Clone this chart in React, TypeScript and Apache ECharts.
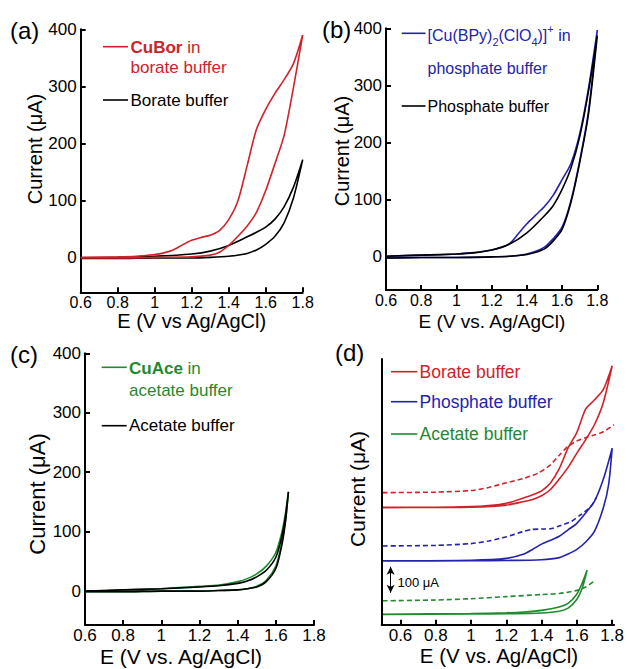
import React, { useEffect, useRef } from 'react';
import * as echarts from 'echarts';

// ---------- tick labels ----------
const xTicks = [0.6, 0.8, 1, 1.2, 1.4, 1.6, 1.8];
const yTicks = [0, 100, 200, 300, 400];

// ---------- panel (a) ----------
const aRedUpper = [[0.6, 1], [0.8, 2], [0.9, 3], [1.0, 6], [1.05, 9], [1.1, 14], [1.15, 23], [1.2, 31], [1.25, 36], [1.3, 40], [1.35, 48], [1.4, 67], [1.45, 100], [1.5, 162], [1.55, 225], [1.6, 260], [1.65, 288], [1.7, 312], [1.75, 340], [1.8, 390]];
const aRedLower = [[0.6, 0], [0.8, 0], [1.0, 1], [1.2, 2], [1.3, 5], [1.35, 10], [1.4, 22], [1.45, 38], [1.5, 56], [1.55, 80], [1.6, 118], [1.65, 165], [1.7, 215], [1.75, 298], [1.8, 390]];
const aBlackUpper = [[0.6, 0], [0.8, 1], [1.0, 3], [1.2, 7], [1.3, 12], [1.4, 22], [1.5, 37], [1.55, 45], [1.6, 54], [1.65, 68], [1.7, 90], [1.75, 124], [1.8, 172]];
const aBlackLower = [[0.6, -1], [0.8, -1], [1.0, 0], [1.2, 0], [1.3, 1], [1.4, 3], [1.5, 8], [1.55, 14], [1.6, 24], [1.65, 38], [1.7, 62], [1.75, 105], [1.8, 172]];

// ---------- panel (b) ----------
const bBlueUpper = [[0.6, 1], [0.8, 3], [1.0, 5], [1.2, 12], [1.3, 23], [1.35, 40], [1.4, 58], [1.45, 73], [1.5, 88], [1.55, 108], [1.6, 135], [1.65, 163], [1.7, 215], [1.75, 295], [1.8, 397]];
const bBlueLower = [[0.6, -2], [0.8, -1], [1.0, -1], [1.2, 0], [1.3, 1], [1.4, 5], [1.5, 17], [1.55, 32], [1.6, 52], [1.65, 98], [1.7, 168], [1.75, 255], [1.8, 397]];
const bBlackUpper = [[0.6, 1], [0.8, 3], [1.0, 5], [1.1, 7], [1.2, 12], [1.3, 22], [1.4, 42], [1.5, 72], [1.55, 90], [1.6, 118], [1.65, 155], [1.7, 210], [1.75, 290], [1.8, 387]];
const bBlackLower = [[0.6, -2], [0.8, -1], [1.0, -1], [1.2, 0], [1.3, 1], [1.4, 4], [1.5, 14], [1.55, 28], [1.6, 48], [1.65, 95], [1.7, 165], [1.75, 250], [1.8, 387]];

// ---------- panel (c) ----------
const cGreenUpper = [[0.6, 0], [0.8, 2], [1.0, 4], [1.2, 8], [1.3, 10], [1.4, 16], [1.45, 21], [1.5, 29], [1.55, 42], [1.6, 65], [1.63, 97], [1.65, 130], [1.666, 167]];
const cGreenLower = [[0.6, -1], [0.8, -1], [1.0, 0], [1.2, 0], [1.3, 1], [1.4, 2], [1.45, 4], [1.5, 8], [1.55, 18], [1.6, 42], [1.63, 80], [1.65, 118], [1.666, 167]];
const cBlackUpper = [[0.6, 0], [0.8, 2], [1.0, 4], [1.2, 7], [1.3, 9], [1.4, 13], [1.45, 17], [1.5, 24], [1.55, 35], [1.6, 57], [1.63, 90], [1.65, 125], [1.666, 167]];
const cBlackLower = [[0.6, -1], [0.8, -1], [1.0, 0], [1.2, 0], [1.3, 1], [1.4, 2], [1.45, 4], [1.5, 7], [1.55, 16], [1.6, 38], [1.63, 75], [1.65, 115], [1.666, 167]];

// ---------- panel (d) (offset traces, µA) ----------
const dRedUpper = [[0.5, 452], [0.8, 452], [1.0, 454], [1.1, 458], [1.2, 467], [1.3, 488], [1.35, 500], [1.4, 515], [1.45, 545], [1.5, 600], [1.55, 680], [1.6, 740], [1.65, 830], [1.7, 865], [1.75, 905], [1.8, 996]];
const dRedLower = [[0.5, 450], [0.8, 451], [1.0, 452], [1.2, 460], [1.3, 474], [1.35, 482], [1.4, 496], [1.45, 520], [1.5, 560], [1.55, 605], [1.6, 660], [1.65, 712], [1.7, 770], [1.75, 855], [1.8, 996]];
const dRedDashed = [[0.5, 508], [0.8, 510], [1.0, 516], [1.1, 528], [1.2, 546], [1.3, 563], [1.38, 583], [1.45, 615], [1.5, 652], [1.55, 686], [1.6, 707], [1.66, 722], [1.7, 730], [1.75, 742], [1.81, 769]];
const dBlueUpper = [[0.5, 246], [1.0, 248], [1.2, 255], [1.3, 272], [1.35, 290], [1.4, 310], [1.45, 325], [1.5, 340], [1.55, 365], [1.6, 390], [1.65, 430], [1.7, 475], [1.75, 560], [1.8, 679]];
const dBlueLower = [[0.5, 245], [1.0, 246], [1.2, 247], [1.4, 250], [1.5, 258], [1.55, 272], [1.6, 290], [1.65, 318], [1.7, 360], [1.75, 450], [1.78, 540], [1.8, 679]];
const dBlueDashed = [[0.5, 303], [0.8, 305], [1.0, 312], [1.1, 322], [1.2, 338], [1.29, 357], [1.34, 366], [1.4, 368], [1.45, 369], [1.5, 380], [1.57, 398], [1.62, 422], [1.68, 455], [1.71, 490]];
const dGreenUpper = [[0.5, 40], [1.0, 43], [1.2, 46], [1.3, 49], [1.4, 55], [1.5, 68], [1.55, 82], [1.6, 118], [1.63, 160], [1.658, 210]];
const dGreenLower = [[0.5, 39], [1.0, 41], [1.2, 42], [1.4, 45], [1.5, 52], [1.55, 64], [1.6, 98], [1.63, 140], [1.658, 210]];
const dGreenDashed = [[0.5, 92], [0.8, 95], [1.0, 100], [1.2, 108], [1.4, 116], [1.5, 120], [1.6, 132], [1.65, 145], [1.7, 168]];
const dScaleBar = [123, 223]; // 100 µA
const dScaleBarE = 0.544;

const RED = '#d0222a';
const BLUE = '#2323ad';
const GREEN = '#1f8a2e';
const BLACK = '#000000';
const FONT = '"Liberation Sans", Arial, sans-serif';

function loop(upper: number[][], lower: number[][]) {
  return upper.concat(lower.slice(0, -1).reverse());
}

function xAxisCfg(gridIndex: number, min: number, max: number, fs: number, margin = 2) {
  return {
    type: 'value', gridIndex, min, max,
    axisLine: { show: true, onZero: false, lineStyle: { color: '#000', width: 2 } },
    axisTick: { show: true, inside: true, length: 5, lineStyle: { color: '#000', width: 2 }, customValues: xTicks },
    axisLabel: { show: true, customValues: xTicks, fontSize: fs, color: '#000', fontFamily: FONT, margin },
    splitLine: { show: false },
  };
}
function yAxisCfg(gridIndex: number, min: number, max: number, show: boolean) {
  return {
    type: 'value', gridIndex, min, max,
    axisLine: { show: true, onZero: false, lineStyle: { color: '#000', width: 2 } },
    axisTick: { show, inside: true, length: 5, lineStyle: { color: '#000', width: 2 }, customValues: yTicks },
    axisLabel: { show, customValues: yTicks, fontSize: 17, color: '#000', fontFamily: FONT, margin: 4 },
    splitLine: { show: false },
  };
}
function line(idx: number, data: number[][], color: string, dashed = false, extra: any = {}) {
  return {
    type: 'line', xAxisIndex: idx, yAxisIndex: idx, data, showSymbol: false, symbol: 'none',
    smooth: 0.25, lineStyle: { color, width: 1.6, type: dashed ? [5, 3] : 'solid' },
    silent: true, z: 2, ...extra,
  };
}
function txt(text: string, x: number, y: number, fontSize: number, fill: string, opts: any = {}) {
  return {
    type: 'text', x, y, rotation: opts.rotation || 0, silent: true,
    style: {
      text, fill, fontSize, fontFamily: FONT, fontWeight: opts.bold ? 'bold' : 'normal',
      align: opts.align || 'left', textAlign: opts.align || 'left',
      verticalAlign: 'middle', textVerticalAlign: 'middle', rich: opts.rich,
    },
  };
}
function seg(x1: number, x2: number, y: number, color: string) {
  return { type: 'line', silent: true, shape: { x1, y1: y, x2, y2: y }, style: { stroke: color, lineWidth: 1.6 } };
}

export default function App() {
  const ref = useRef<HTMLDivElement>(null);
  useEffect(() => {
    const chart = echarts.init(ref.current as HTMLDivElement, null, { renderer: 'svg' });
    const option: any = {
      animation: false,
      backgroundColor: '#ffffff',
      grid: [
        { left: 80.7, top: 29.3, width: 222, height: 263 },
        { left: 386, top: 28.3, width: 211.3, height: 261.7 },
        { left: 85, top: 353.3, width: 229, height: 271.7 },
        { left: 381.7, top: 359, width: 235, height: 265.7 },
      ],
      xAxis: [
        xAxisCfg(0, 0.6, 1.8, 16),
        xAxisCfg(1, 0.6, 1.8, 16),
        xAxisCfg(2, 0.6, 1.8, 17, 2),
        xAxisCfg(3, 0.4935, 1.811, 17),
      ],
      yAxis: [
        yAxisCfg(0, -60, 400, true),
        yAxisCfg(1, -58, 400, true),
        yAxisCfg(2, -57, 400, true),
        yAxisCfg(3, 0, 1022, false),
      ],
      series: [
        line(0, loop(aBlackUpper, aBlackLower), BLACK),
        line(0, loop(aRedUpper, aRedLower), RED),
        line(1, loop(bBlueUpper, bBlueLower), BLUE),
        line(1, loop(bBlackUpper, bBlackLower), BLACK),
        line(2, loop(cGreenUpper, cGreenLower), GREEN),
        line(2, loop(cBlackUpper, cBlackLower), BLACK),
        line(3, loop(dRedUpper, dRedLower), RED),
        line(3, dRedDashed, RED, true),
        line(3, loop(dBlueUpper, dBlueLower), BLUE),
        line(3, dBlueDashed, BLUE, true),
        line(3, loop(dGreenUpper, dGreenLower), GREEN),
        line(3, dGreenDashed, GREEN, true, {
          markLine: {
            silent: true, symbol: ['arrow', 'arrow'], symbolSize: [6, 8],
            lineStyle: { color: '#000', width: 1, type: 'solid' },
            label: { show: false },
            data: [[{ coord: [dScaleBarE, dScaleBar[0]] }, { coord: [dScaleBarE, dScaleBar[1]] }]],
          },
        }),
      ],
      graphic: [
        // panel letters
        txt('(a)', 10, 30, 24, '#000'),
        txt('(b)', 322, 29, 24, '#000'),
        txt('(c)', 10, 354, 24, '#000'),
        txt('(d)', 335, 352, 24, '#000'),
        // axis names
        txt('Current (μA)', 35, 149, 20, '#000', { rotation: Math.PI / 2, align: 'center' }),
        txt('E (V vs Ag/AgCl)', 191.7, 321, 20, '#000', { align: 'center' }),
        txt('Current (μA)', 341.7, 151, 20, '#000', { rotation: Math.PI / 2, align: 'center' }),
        txt('E (V vs. Ag/AgCl)', 492, 321, 19, '#000', { align: 'center' }),
        txt('Current (μA)', 37.5, 494, 22, '#000', { rotation: Math.PI / 2, align: 'center' }),
        txt('E (V vs. Ag/AgCl)', 181, 656, 21, '#000', { align: 'center' }),
        txt('Current (μA)', 357.5, 489, 21, '#000', { rotation: Math.PI / 2, align: 'center' }),
        txt('E (V vs. Ag/AgCl)', 499, 655, 20.5, '#000', { align: 'center' }),
        // legend (a)
        seg(103, 128, 46.7, RED),
        txt('{b|CuBor}{n| in}', 130.5, 47, 17, RED, { rich: { b: { fontWeight: 'bold', fontSize: 17, fontFamily: FONT, fill: RED }, n: { fontSize: 17, fontFamily: FONT, fill: RED } } }),
        txt('borate buffer', 130.5, 67, 17, RED),
        seg(103, 128, 100, BLACK),
        txt('Borate buffer', 130.5, 100, 17, BLACK),
        // legend (b)
        seg(401.7, 425.5, 33.3, BLUE),
        txt('{n|[Cu(BPy)}{s|2}{n|(ClO}{s|4}{n|)]}{p|+}{n| in}', 427.5, 35, 16, BLUE, {
          rich: {
            n: { fontSize: 16, lineHeight: 24, verticalAlign: 'middle', fontFamily: FONT, fill: BLUE },
            s: { fontSize: 11, lineHeight: 12, verticalAlign: 'bottom', fontFamily: FONT, fill: BLUE },
            p: { fontSize: 11, lineHeight: 12, verticalAlign: 'top', fontFamily: FONT, fill: BLUE },
          },
        }),
        txt('phosphate buffer', 427.5, 68, 16, BLUE),
        seg(401.7, 425.5, 106, BLACK),
        txt('Phosphate buffer', 427.5, 106, 16, BLACK),
        // legend (c)
        seg(101.7, 126.7, 367.3, GREEN),
        txt('{b|CuAce}{n| in}', 129, 368, 17, GREEN, { rich: { b: { fontWeight: 'bold', fontSize: 17, fontFamily: FONT, fill: GREEN }, n: { fontSize: 17, fontFamily: FONT, fill: GREEN } } }),
        txt('acetate buffer', 129, 390, 17, GREEN),
        seg(101.7, 126.7, 425.7, BLACK),
        txt('Acetate buffer', 129, 425.7, 17, BLACK),
        // legend (d)
        seg(391, 417.3, 371.7, RED),
        txt('Borate buffer', 419.5, 372, 17.5, RED),
        seg(391, 417.3, 401.7, BLUE),
        txt('Phosphate buffer', 419.5, 402, 17.5, BLUE),
        seg(391, 417.3, 434, GREEN),
        txt('Acetate buffer', 419.5, 434, 17.5, GREEN),
        // scale bar label
        txt('100 μA', 397.5, 582, 13, '#000'),
      ],
    };
    chart.setOption(option);
    return () => chart.dispose();
  }, []);
  return <div ref={ref} style={{ position: 'absolute', left: 0, top: 0, width: 627, height: 669 }} />;
}
